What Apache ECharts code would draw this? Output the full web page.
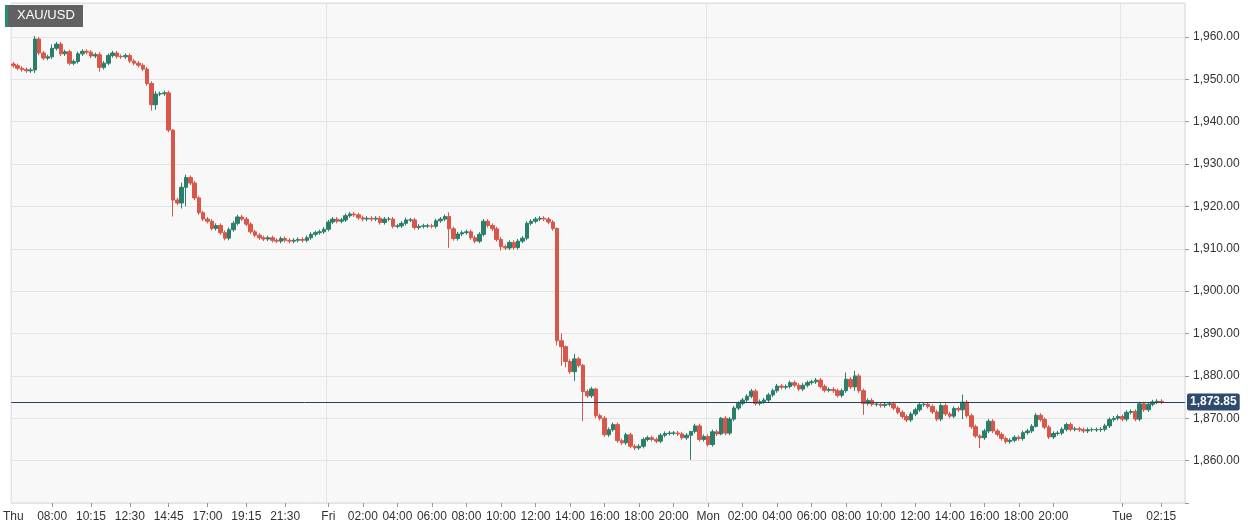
<!DOCTYPE html>
<html>
<head>
<meta charset="utf-8">
<script src="https://cdn.jsdelivr.net/npm/echarts@6/dist/echarts.min.js"></script>
<style>
  html, body { margin: 0; padding: 0; background: #fff; }
  #main { width: 1256px; height: 527px; }
</style>
</head>
<body>
<div id="main"></div>
<script>
// 15-minute closes
var closes = [
  1953.2, 1952.6, 1952.3, 1952.0, 1952.2, 1959.5, 1956.2, 1955.0, 1955.3, 1957.3,
  1958.3, 1956.0, 1956.5, 1953.8, 1954.2, 1956.0, 1956.6, 1956.4, 1955.5, 1955.8,
  1952.8, 1953.8, 1955.6, 1956.2, 1955.4, 1955.3, 1955.6, 1954.3, 1953.8, 1953.3,
  1952.4, 1949.0, 1944.0, 1946.5, 1946.6, 1946.8, 1938.0, 1921.5, 1920.8, 1924.5,
  1926.8, 1925.5, 1922.0, 1918.5, 1917.0, 1916.5, 1914.8, 1915.5, 1913.8, 1912.5,
  1914.5, 1916.0, 1917.5, 1917.0, 1915.8, 1914.0, 1913.2, 1912.6, 1912.3, 1912.6,
  1912.0, 1911.8, 1912.4, 1912.0, 1911.8, 1912.0, 1912.2, 1912.0, 1912.6, 1913.4,
  1913.8, 1914.0, 1914.6, 1916.3, 1917.0, 1916.5, 1916.8, 1917.8, 1918.2, 1918.0,
  1917.3, 1917.0, 1917.2, 1917.0, 1917.2, 1916.2, 1917.0, 1917.0, 1915.3, 1915.4,
  1916.0, 1916.8, 1916.8, 1915.0, 1915.3, 1915.4, 1915.4, 1915.3, 1916.6, 1917.0,
  1917.6, 1914.7, 1912.4, 1913.5, 1913.8, 1914.0, 1912.6, 1911.8, 1913.4, 1916.5,
  1915.5, 1914.7, 1912.2, 1910.5, 1910.2, 1911.5, 1910.3, 1911.8, 1912.5, 1916.0,
  1916.5, 1917.0, 1917.2, 1917.0, 1916.3, 1914.8, 1888.3, 1886.9, 1883.4, 1881.0,
  1884.0, 1882.5, 1876.3, 1875.3, 1876.9, 1870.6, 1870.0, 1866.1, 1867.3, 1868.5,
  1864.7, 1864.2, 1866.1, 1863.4, 1863.0, 1863.4, 1865.0, 1865.4, 1865.0, 1864.6,
  1866.0, 1866.4, 1866.5, 1866.5, 1866.3, 1865.4, 1866.0, 1866.9, 1868.2, 1865.0,
  1865.7, 1863.8, 1866.8, 1866.3, 1870.0, 1866.5, 1869.8, 1872.4, 1873.5, 1874.3,
  1875.2, 1876.4, 1873.5, 1873.9, 1874.3, 1875.5, 1876.5, 1877.6, 1877.3, 1877.5,
  1878.4, 1877.8, 1876.9, 1877.8, 1878.4, 1878.6, 1879.0, 1877.5, 1876.6, 1876.8,
  1876.5, 1875.4, 1876.5, 1879.2, 1877.4, 1880.0, 1876.5, 1873.5, 1874.2, 1873.3,
  1873.3, 1873.0, 1873.3, 1873.4, 1872.4, 1871.4, 1870.4, 1869.6, 1871.0, 1872.0,
  1873.2, 1873.3, 1872.8, 1871.5, 1869.8, 1873.0, 1871.0, 1870.5, 1872.3, 1872.0,
  1873.8, 1870.6, 1868.0, 1865.8, 1865.4, 1867.0, 1869.3, 1867.0, 1866.2, 1865.2,
  1864.5, 1864.8, 1865.5, 1865.2, 1866.6, 1867.0, 1868.1, 1870.7, 1869.7, 1867.9,
  1865.6, 1866.4, 1866.5, 1867.4, 1868.5, 1867.4, 1867.5, 1867.3, 1867.0, 1867.3,
  1867.3, 1867.3, 1867.4, 1868.2, 1869.7, 1870.0, 1870.4, 1869.8, 1871.4, 1871.6,
  1869.8, 1873.4, 1872.0, 1873.3, 1873.85, 1874.0, 1873.85
];
var firstOpen = 1953.6;
// bars with long wicks: index -> [low, high]
var wicks = {
  5: [1951.5, 1960.2], 9: [1954.8, 1958.2], 20: [1951.8, 1956.4], 32: [1942.6, 1949.5],
  33: [1942.8, 1947.2], 37: [1917.6, 1938.2], 39: [1919.5, 1925.6], 40: [1920.0, 1927.5],
  101: [1910.2, 1918.6], 113: [1909.6, 1912.8], 126: [1887.2, 1915.0], 127: [1882.4, 1890.0],
  128: [1882.0, 1887.2], 130: [1878.8, 1885.2], 132: [1869.3, 1882.8], 135: [1870.0, 1877.2],
  157: [1860.2, 1867.0], 164: [1866.0, 1870.3], 193: [1876.0, 1880.8], 195: [1876.5, 1881.2],
  197: [1870.8, 1877.0], 220: [1869.8, 1875.6], 224: [1863.0, 1866.2], 237: [1867.8, 1871.2]
};
var lastPrice = 1873.85;
var yTicks = { min: 1850, max: 1968, step: 10 };
var dayLabels = { 'Thu 05:45': 'Thu', 'Fri 00:00': 'Fri', 'Mon 00:00': 'Mon', 'Tue 00:00': 'Tue' };
var shownTimes = ['Thu 05:45', 'Thu 08:00', 'Thu 10:15', 'Thu 12:30', 'Thu 14:45', 'Thu 17:00', 'Thu 19:15', 'Thu 21:30',
  'Fri 00:00', 'Fri 02:00', 'Fri 04:00', 'Fri 06:00', 'Fri 08:00', 'Fri 10:00', 'Fri 12:00', 'Fri 14:00',
  'Fri 16:00', 'Fri 18:00', 'Fri 20:00', 'Mon 00:00', 'Mon 02:00', 'Mon 04:00', 'Mon 06:00', 'Mon 08:00',
  'Mon 10:00', 'Mon 12:00', 'Mon 14:00', 'Mon 16:00', 'Mon 18:00', 'Mon 20:00', 'Tue 00:00', 'Tue 02:15'];
var emptySlots = 5;

// time categories: Thu 05:45 .. Fri 21:00, Sun 23:15 .., Mon, Tue
function pad(n) { return (n < 10 ? '0' : '') + n; }
var times = [];
function addRun(day, startMin, endMin) {
  for (var m = startMin; m <= endMin; m += 15) {
    times.push(day + ' ' + pad(Math.floor(m / 60)) + ':' + pad(m % 60));
  }
}
addRun('Thu', 5 * 60 + 45, 23 * 60 + 45);
addRun('Fri', 0, 21 * 60);
addRun('Sun', 23 * 60 + 15, 23 * 60 + 45);
addRun('Mon', 0, 23 * 60 + 45);
addRun('Tue', 0, 4 * 60);
times = times.slice(0, closes.length + emptySlots);

var candles = closes.map(function (c, i) {
  var o = i === 0 ? firstOpen : closes[i - 1];
  var lo = Math.min(o, c) - 0.5, hi = Math.max(o, c) + 0.5;
  if (wicks[i]) { lo = wicks[i][0]; hi = wicks[i][1]; }
  return [o, c, lo, hi];
});

function fmt(v) {
  return v.toFixed(2).replace(/\B(?=(\d{3})+(?!\d))/g, ',');
}

var myChart = echarts.init(document.getElementById('main'));
var option = {
  animation: false,
  backgroundColor: '#fff',
  textStyle: { fontFamily: 'Liberation Sans, Arial, sans-serif' },
  grid: { left: 0, right: 71, top: 3, bottom: 24, show: true, backgroundColor: '#f8f8f8', borderColor: '#d4d8e6', borderWidth: 1 },
  xAxis: {
    type: 'category',
    data: times,
    boundaryGap: true,
    axisLine: { show: false },
    axisTick: {
      show: true, length: 4, lineStyle: { color: '#999' }, alignWithLabel: true,
      interval: function (i, v) { return shownTimes.indexOf(v) > 0; }
    },
    axisLabel: {
      color: '#333', fontSize: 12, margin: 8,
      interval: function (i, v) { return shownTimes.indexOf(v) >= 0; },
      formatter: function (v) { return dayLabels[v] || v.slice(4); },
      showMinLabel: true
    },
    splitLine: {
      show: true, lineStyle: { color: '#e4e4e4' },
      interval: function (i, v) { return i > 0 && !!dayLabels[v]; }
    }
  },
  yAxis: {
    type: 'value',
    position: 'right',
    min: yTicks.min,
    max: yTicks.max,
    interval: yTicks.step,
    axisLine: { show: false },
    axisTick: { show: true, length: 4, lineStyle: { color: '#999' } },
    axisLabel: {
      color: '#333', fontSize: 12, margin: 8,
      showMaxLabel: false,
      formatter: function (v) { return (v === yTicks.min || v === yTicks.max) ? '' : fmt(v); }
    },
    splitLine: { lineStyle: { color: '#e4e4e4' } }
  },
  series: [{
    type: 'candlestick',
    data: candles,
    barWidth: 4,
    itemStyle: {
      color: '#2a7f6b', color0: '#d9574a',
      borderColor: '#2a7f6b', borderColor0: '#d9574a', borderWidth: 1
    },
    markLine: {
      symbol: 'none',
      silent: true,
      data: [{ yAxis: lastPrice }],
      lineStyle: { color: '#2b3f5e', width: 1, type: 'solid' },
      label: {
        position: 'end',
        formatter: function () { return fmt(lastPrice); },
        color: '#fff', fontWeight: 'bold', fontSize: 12,
        backgroundColor: '#2e4a6e', padding: [3, 3, 2, 3], borderRadius: 2,
        distance: 2
      }
    }
  }],
  graphic: [
    { type: 'rect', left: 5, top: 5, shape: { width: 78, height: 22 }, style: { fill: '#616161' }, z: 100 },
    { type: 'rect', left: 5, top: 5, shape: { width: 3, height: 22 }, style: { fill: '#2a8a72' }, z: 101 },
    { type: 'text', left: 17, top: 9, style: { text: 'XAU/USD', fill: '#fff', fontSize: 13, fontFamily: 'Liberation Sans, Arial, sans-serif' }, z: 102 }
  ]
};
myChart.setOption(option);
</script>
</body>
</html>
